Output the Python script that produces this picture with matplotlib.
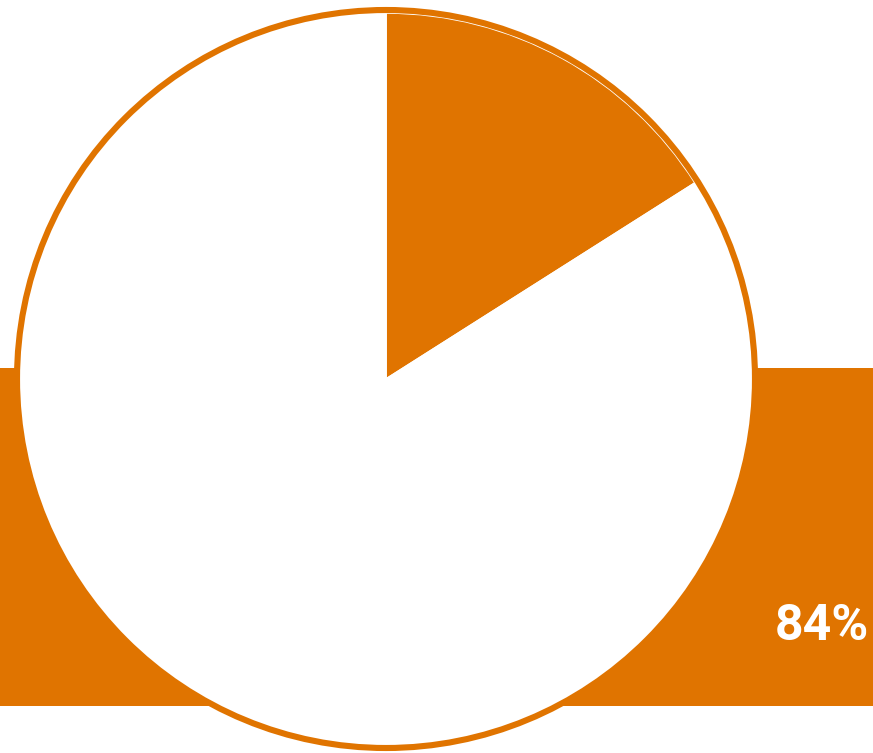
import matplotlib.pyplot as plt
from matplotlib.patches import Rectangle, Circle

# data
labels = ['Yes', 'No']
shares = [16, 84]
label_text = '84%'

orange = '#E07400'

fig = plt.figure(figsize=(8.73, 7.53), dpi=100)
ax = fig.add_axes([0, 0, 1, 1])

# orange band behind the pie
ax.add_patch(Rectangle((0, 47), 873, 338, facecolor=orange, edgecolor='none', zorder=0))

cx, cy, r = 386, 374, 366
ax.pie(shares, colors=[orange, 'white'], startangle=90, counterclock=False,
       center=(cx, cy), radius=r, frame=True,
       wedgeprops=dict(edgecolor='white', linewidth=1.2))
ax.set_xlim(0, 873)
ax.set_ylim(0, 753)
ax.set_aspect('equal')
ax.axis('off')

# outline ring
ax.add_patch(Circle((cx, cy), r + 3, fill=False, edgecolor=orange, linewidth=4.4, zorder=5))

ax.text(822, 127, label_text, color='white', fontsize=36, fontweight='bold',
        family=['Roboto', 'DejaVu Sans'], ha='center', va='center', zorder=6)

fig.savefig('out.png', dpi=100)
